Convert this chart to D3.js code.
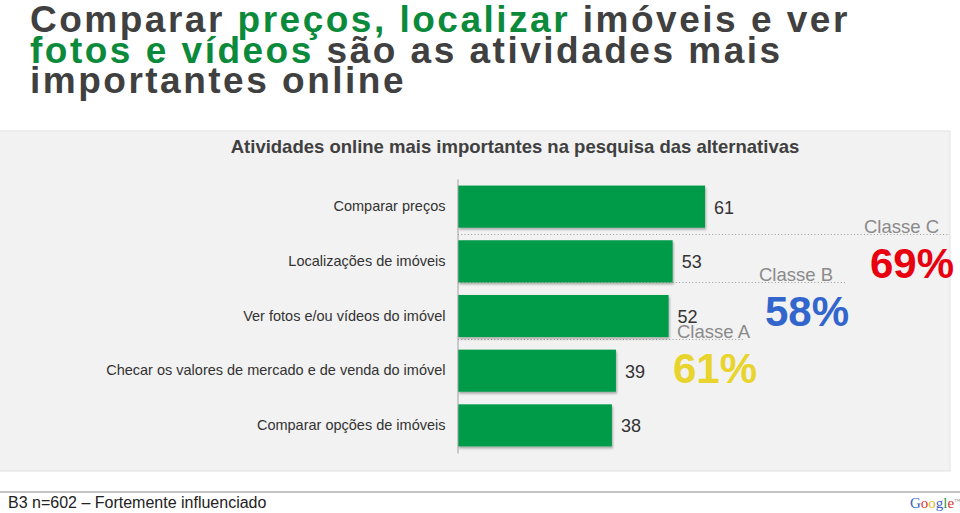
<!DOCTYPE html>
<html>
<head>
<meta charset="utf-8">
<script src="https://cdn.jsdelivr.net/npm/d3@7"></script>
<style>
  body { margin: 0; background: #fff; }
  svg { display: block; font-family: "Liberation Sans", Arial, sans-serif; }
</style>
</head>
<body>
<svg id="chart" width="960" height="513"></svg>
<script>
// data
var categories = [
  "Comparar preços",
  "Localizações de imóveis",
  "Ver fotos e/ou vídeos do imóvel",
  "Checar os valores de mercado e de venda do imóvel",
  "Comparar opções de imóveis"
];
var values = [61, 53, 52, 39, 38];

var classes = ["Classe A", "Classe B", "Classe C"];
var classValues = [61, 58, 69];
var classColors = ["#e8d42c", "#3366cc", "#e8000f"];

var titleLines = [
  [["Comparar ", "#404040"], ["preços, localizar", "#0b8a3b"], [" imóveis e ver", "#404040"]],
  [["fotos e vídeos", "#0b8a3b"], [" são as atividades mais", "#404040"]],
  [["importantes online", "#404040"]]
];
var subtitle = "Atividades online mais importantes na pesquisa das alternativas";
var footnote = "B3 n=602 \u2013 Fortemente influenciado";

var svg = d3.select("#chart");

var defs = svg.append("defs");
defs.append("filter").attr("id", "shadow")
    .attr("x", "-5%").attr("y", "-10%").attr("width", "115%").attr("height", "130%")
    .append("feDropShadow")
    .attr("dx", 1).attr("dy", 2).attr("stdDeviation", 1)
    .attr("flood-color", "#000").attr("flood-opacity", 0.3);

// title
var title = svg.append("text")
    .attr("x", 30)
    .style("font-size", "37px")
    .style("font-weight", "bold")
    .style("letter-spacing", "2.5px");

titleLines.forEach(function (line, i) {
    line.forEach(function (part, j) {
        var t = title.append("tspan")
            .attr("fill", part[1])
            .text(part[0]);
        if (j == 0) t.attr("x", 30).attr("y", 32 + i * 30.5);
    });
});

// grey panel
svg.append("rect")
    .attr("x", -1).attr("y", 131)
    .attr("width", 951).attr("height", 340)
    .attr("fill", "#f2f2f2")
    .attr("stroke", "#e2e2e2");

svg.append("text")
    .attr("x", 515).attr("y", 153)
    .attr("text-anchor", "middle")
    .style("font-size", "18.5px")
    .style("font-weight", "bold")
    .attr("fill", "#404040")
    .text(subtitle);

var X_scale = d3.scaleLinear().domain([0, 100]).range([458, 863]);
var Y_scale = d3.scaleBand().domain(categories).range([179, 453])
    .paddingInner(0.23).paddingOuter(0.12);

// dotted guide lines for the class annotations (drawn under bars)
var annLabelX = [677, 759, 864];
var annPctX = [673, 765, 870];
var annLineY = [339, 282, 234];
var annLineEnd = [745, 845, 950];

svg.append("g").selectAll("line")
    .data(classes)
    .join("line")
    .attr("x1", 458)
    .attr("x2", function (d, i) { return annLineEnd[i]; })
    .attr("y1", function (d, i) { return annLineY[i] + 0.5; })
    .attr("y2", function (d, i) { return annLineY[i] + 0.5; })
    .attr("stroke", "#9a9a9a")
    .attr("stroke-dasharray", "1,2.3");

// bars
svg.append("g").selectAll("rect")
    .data(values)
    .join("rect")
    .attr("x", X_scale(0))
    .attr("y", function (d, i) { return Y_scale(categories[i]); })
    .attr("width", function (d) { return X_scale(d) - X_scale(0); })
    .attr("height", Y_scale.bandwidth())
    .attr("fill", "#009b4a")
    .attr("filter", "url(#shadow)");

// axis with category labels
var yAxis = svg.append("g")
    .attr("transform", "translate(457.5,0)")
    .call(d3.axisLeft(Y_scale).tickSize(0).tickPadding(12));
yAxis.select(".domain").attr("stroke", "#a0a0a0");
yAxis.selectAll("text")
    .style("font-family", "'Liberation Sans', Arial, sans-serif")
    .style("font-size", "14.5px")
    .attr("fill", "#333");

// value labels
svg.append("g").selectAll("text")
    .data(values)
    .join("text")
    .attr("x", function (d) { return X_scale(d) + 9; })
    .attr("y", function (d, i) { return Y_scale(categories[i]) + Y_scale.bandwidth() / 2 + 7; })
    .style("font-size", "18px")
    .attr("fill", "#333")
    .text(function (d) { return d; });

// class annotations
var ann = svg.append("g").selectAll("g")
    .data(classes)
    .join("g");

ann.append("text")
    .attr("x", function (d, i) { return annLabelX[i]; })
    .attr("y", function (d, i) { return annLineY[i] - 1; })
    .style("font-size", "18.5px")
    .attr("fill", "#8a8a8a")
    .text(function (d) { return d; });

ann.append("text")
    .attr("x", function (d, i) { return annPctX[i]; })
    .attr("y", function (d, i) { return annLineY[i] + 44; })
    .style("font-size", "42px")
    .style("font-weight", "bold")
    .attr("fill", function (d, i) { return classColors[i]; })
    .text(function (d, i) { return classValues[i] + "%"; });

// footer
svg.append("line")
    .attr("x1", 0).attr("x2", 960)
    .attr("y1", 492).attr("y2", 492)
    .attr("stroke", "#c4c4c4").attr("stroke-width", 2);

svg.append("text")
    .attr("x", 8).attr("y", 508)
    .style("font-size", "16px")
    .attr("fill", "#222")
    .text(footnote);

var logoLetters = ["G", "o", "o", "g", "l", "e"];
var logoColors = ["#3b62c4", "#d8322a", "#e6b82b", "#3b62c4", "#2f9a45", "#d8322a"];
var logo = svg.append("text")
    .attr("x", 910).attr("y", 508)
    .style("font-family", "'Liberation Serif', 'DejaVu Serif', serif")
    .style("font-size", "15px");
logoLetters.forEach(function (l, i) {
    logo.append("tspan").attr("fill", logoColors[i]).text(l);
});
logo.append("tspan").attr("fill", "#888").style("font-size", "6px").attr("dy", -5).text("™");
</script>
</body>
</html>
